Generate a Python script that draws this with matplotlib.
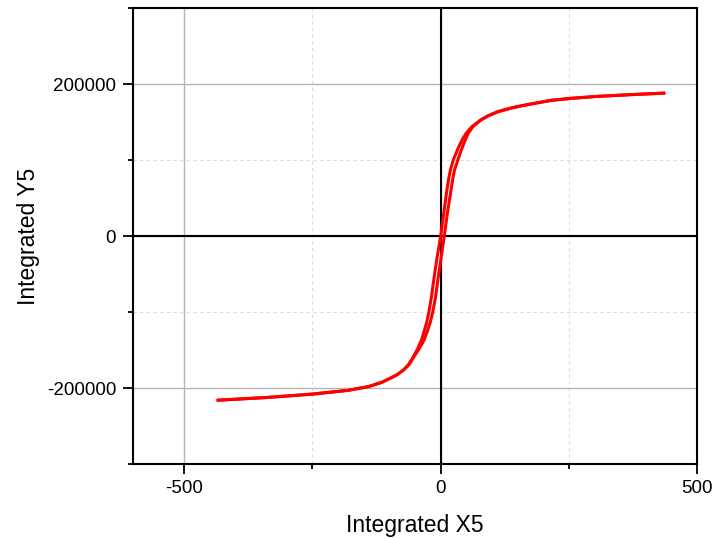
import numpy as np
import matplotlib.pyplot as plt
from matplotlib.ticker import MultipleLocator

# dados (dois ramos do laco, mesmo y)
y_vals = [-216000, -212500, -208000, -203000, -198000, -192500, -187000, -182500,
          -176000, -169000, -159000, -149000, -137000, -127000, -114000, -100000,
          -80000, -60000, -30000, 0, 30000, 60000, 75000, 87000, 100000, 110000,
          120000, 128000, 135500, 144000, 152600, 158000, 163500, 168000, 171000,
          173700, 178500, 181000, 183500, 186000, 188000]
x_left = [-434, -340, -250, -180, -140, -115, -98, -85, -72, -62.5, -53.5, -45.5,
          -37.5, -33, -27.5, -23, -18, -14, -7.5, 0, 6, 12, 15.5, 19, 24.5, 30.5,
          37, 43, 50, 61, 78, 92, 111, 135, 155, 176, 215, 252, 300, 370, 435]
x_right = [-434, -340, -250, -180, -140, -115, -98, -85, -72, -61.5, -52.5, -42.5,
           -32.5, -27, -20.5, -15.5, -10, -6, 0.5, 7, 13, 20, 23.5, 27, 33.5, 38.5,
           44, 49, 54, 63, 78, 92, 111, 135, 155, 176, 215, 252, 300, 370, 435]

plt.rcParams['font.family'] = ['Liberation Sans', 'DejaVu Sans']
plt.rcParams['axes.unicode_minus'] = False

fig = plt.figure(figsize=(7.15, 5.38), dpi=100)
ax = fig.add_axes([0.186, 0.1375, 0.789, 0.8476])

ax.plot(x_right, y_vals, color='red', lw=2.2, zorder=3, solid_joinstyle='round')
ax.plot(x_left, y_vals, color='red', lw=2.2, zorder=3, solid_joinstyle='round')

ax.axhline(0, color='black', lw=1.5, zorder=2)
ax.axvline(0, color='black', lw=1.5, zorder=2)

ax.set_xlim(-600, 500)
ax.set_ylim(-300000, 300000)
ax.xaxis.set_major_locator(MultipleLocator(500))
ax.xaxis.set_minor_locator(MultipleLocator(250))
ax.yaxis.set_major_locator(MultipleLocator(200000))
ax.yaxis.set_minor_locator(MultipleLocator(100000))

ax.grid(which='major', color='#b4b4b4', lw=1.0, zorder=0)
ax.grid(which='minor', color='#dcdcdc', lw=0.8, ls=(0, (3, 3)), zorder=0)

ax.tick_params(which='major', direction='out', length=7.2, width=1.3,
               labelsize=13.5)
ax.tick_params(axis='x', which='major', pad=4)
ax.tick_params(axis='y', which='major', pad=5)
ax.tick_params(which='minor', direction='out', length=3.8, width=1.3)
for sp in ax.spines.values():
    sp.set_linewidth(1.5)

ax.set_xlabel('Integrated X5', fontsize=16.5, labelpad=12.5)
ax.set_ylabel('Integrated Y5', fontsize=16.5, labelpad=5)

fig.savefig('out.png', dpi=100)
